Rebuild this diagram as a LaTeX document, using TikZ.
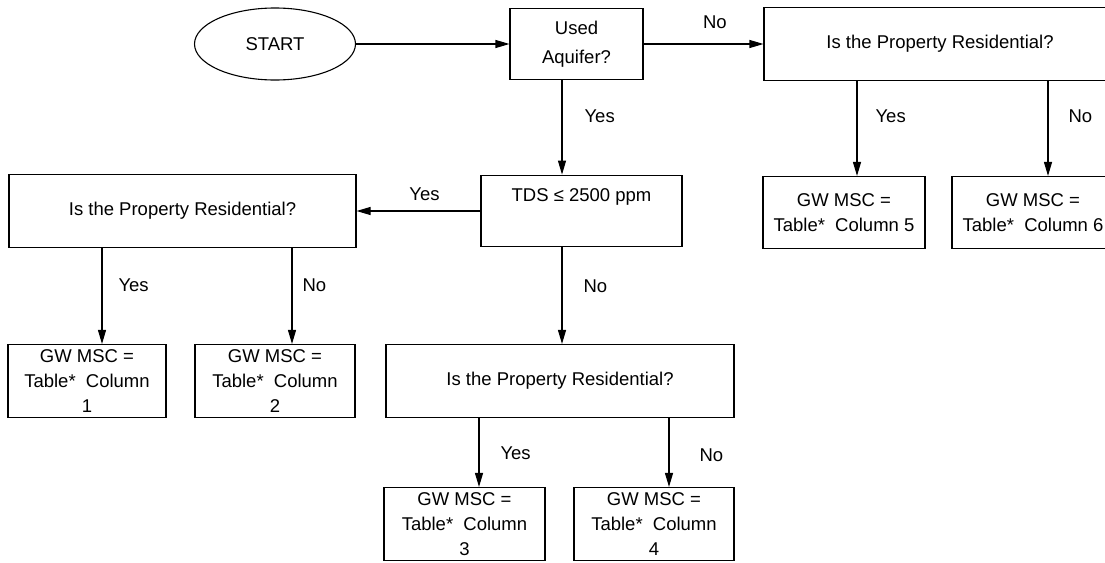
\documentclass[tikz,border=0pt]{standalone}
\usepackage{fontspec}
\setmainfont{Liberation Sans}
\usetikzlibrary{shapes,arrows.meta}
\tikzstyle{block} = [rectangle, draw, line width=1.1pt, align=center,
    inner sep=0pt, minimum height=73pt]
\tikzstyle{question} = [block, minimum width=348pt]
\tikzstyle{result} = [block, minimum width=160pt]
\tikzstyle{terminal} = [draw, ellipse, line width=1.1pt,
    minimum width=161pt, minimum height=72pt, inner sep=0pt]
\tikzstyle{line} = [draw, line width=1.1pt, -{Triangle[length=14pt,width=8pt]}]
\tikzstyle{answer} = [inner sep=0pt]

\begin{document}
\begin{tikzpicture}[font=\fontsize{18.5}{25}\selectfont]
        \useasboundingbox (0,0) rectangle (1105pt,-562pt);
        \clip (0,0) rectangle (1105pt,-562pt);

        % Place nodes
        \node [terminal] (start) at (275pt,-44pt) {START};
        \node [block, right of=start, node distance=301.5pt, minimum width=133pt, minimum height=71pt] (used) {Used\\[4pt]Aquifer?};
        \node [question, right of=used, node distance=363.5pt, minimum width=352pt] (resR) {Is the Property Residential?};
        \node [block, below of=used, node distance=167pt, xshift=5pt, line width=1.8pt, minimum width=201pt, minimum height=71pt] (tds) {TDS ≤ 2500 ppm\\ \strut};
        \node [question, left of=tds, node distance=399pt, minimum width=347pt] (resL) {Is the Property Residential?};
        \node [question, below of=tds, node distance=170pt, xshift=-21.5pt] (resM) {Is the Property Residential?};
        \node [result, below of=resL, node distance=170pt, xshift=-95.5pt, minimum width=158pt] (col1) {GW MSC =\\Table*\ \ Column\\1};
        \node [result, below of=resL, node distance=170pt, xshift=92.5pt] (col2) {GW MSC =\\Table*\ \ Column\\2};
        \node [result, below of=resM, node distance=143pt, xshift=-95.5pt, minimum width=161pt] (col3) {GW MSC =\\Table*\ \ Column\\3};
        \node [result, below of=resM, node distance=143pt, xshift=94pt] (col4) {GW MSC =\\Table*\ \ Column\\4};
        \node [result, below of=resR, node distance=168.5pt, xshift=-96pt, minimum width=162pt, minimum height=72pt] (col5) {GW MSC =\\Table*\ \ Column 5};
        \node [result, below of=resR, node distance=168.5pt, xshift=93pt, minimum width=162pt, minimum height=72pt] (col6) {GW MSC =\\Table*\ \ Column 6};

        % Draw edges
        \path [line] (start) -- (used);
        \path [line] (used) -- node [answer, pos=0.595, above=15pt] {No} (resR);
        \path [line] ([xshift=-14.5pt]used.south) -- node [answer, pos=0.385, right=22pt] {Yes} ([xshift=-19.5pt]tds.north);
        \path [line] (tds.west) -- node [answer, pos=0.45, above=10pt] {Yes} (resL.east);
        \path [line] ([xshift=-19.5pt]tds.south) -- node [answer, pos=0.40, right=21pt] {No} ([xshift=2pt]resM.north);
        \path [line] ([xshift=-80.5pt]resL.south) -- node [answer, pos=0.39, right=16pt] {Yes} ([xshift=15pt]col1.north);
        \path [line] ([xshift=109.5pt]resL.south) -- node [answer, pos=0.39, right=10pt] {No} ([xshift=17pt]col2.north);
        \path [line] ([xshift=-81pt]resM.south) -- node [answer, pos=0.51, right=21pt] {Yes} ([xshift=14.5pt]col3.north);
        \path [line] ([xshift=109pt]resM.south) -- node [answer, pos=0.54, right=30pt] {No} ([xshift=15pt]col4.north);
        \path [line] ([xshift=-83pt]resR.south) -- node [answer, pos=0.375, right=18pt] {Yes} ([xshift=13pt]col5.north);
        \path [line] ([xshift=108pt]resR.south) -- node [answer, pos=0.375, right=20pt] {No} ([xshift=15pt]col6.north);

\end{tikzpicture}
\end{document}
